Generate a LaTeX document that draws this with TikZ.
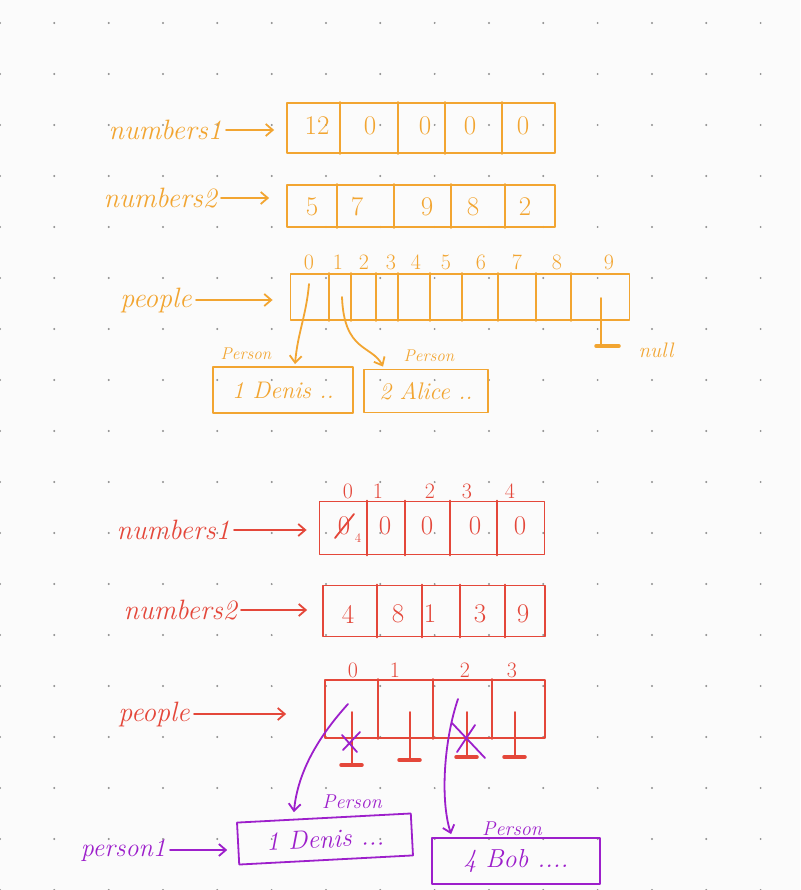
\documentclass[tikz,border=0pt]{standalone}
\usepackage{amsmath}
\usepackage{tikz}
\usetikzlibrary{arrows.meta}

\definecolor{amber}{HTML}{F2A531}
\definecolor{brick}{HTML}{E4473A}
\definecolor{grape}{HTML}{9D1FCB}
\definecolor{paper}{HTML}{FBFBFB}
\definecolor{dotgrey}{HTML}{8E8E8E}

\tikzset{
	ink/.style={line width=1.8pt,line cap=round,line join=round},
	hand/.style={font=\fontsize{28}{30}\selectfont\itshape,inner sep=0pt},
	cellval/.style={font=\fontsize{27}{29}\selectfont,inner sep=0pt},
	idx/.style={font=\fontsize{22}{24}\selectfont,inner sep=0pt},
	tag/.style={font=\fontsize{17}{19}\selectfont\itshape,inner sep=0pt},
	slot/.style={draw,ink,shape=rectangle,inner sep=0pt},
	obj/.style={draw,ink,shape=rectangle,inner sep=0pt,font=\fontsize{24}{26}\selectfont\itshape},
	pointer/.style={ink,->,shorten <=4pt},
	ground/.style={line width=3.5pt,line cap=round}
}

\begin{document}
\begin{tikzpicture}[x=1pt,y=-1pt,>={Straight Barb[length=7pt,width=12pt]}]
					\useasboundingbox (0,0) rectangle (800,890);
					\fill[paper] (0,0) rectangle (800,890);
					\foreach \i in {0,...,14}
						\foreach \j in {0,...,17}
							\fill[dotgrey] ({54.33*\i},{23+51*\j}) circle[radius=1.1pt];

					\begin{scope}[amber]
					\node (numbersone) [hand,anchor=east] at (222,130) {numbers1};
					\node (arrone) [slot,minimum width=268,minimum height=50] at (421,128) {};
					\foreach \x in {340,398,445,502}
						\draw[ink] (\x,0 |- arrone.north) -- (\x,0 |- arrone.south);
					\foreach \x/\v [count=\i] in {317/12,370/0,425/0,470/0,523/0}
						\node (onecell\i) [cellval] at (\x,126) {\v};
					\draw[pointer,shorten >=12pt] (numbersone.east) -- (numbersone.east -| arrone.west);

					\node (numberstwo) [hand,anchor=east] at (217,198) {numbers2};
					\node (arrtwo) [slot,minimum width=268,minimum height=42] at (421,206) {};
					\foreach \x in {337,394,451,505}
						\draw[ink] (\x,0 |- arrtwo.north) -- (\x,0 |- arrtwo.south);
					\foreach \x/\v [count=\i] in {312/5,357/7,427/9,473/8,525/2}
						\node (twocell\i) [cellval] at (\x,207) {\v};
					\draw[pointer,shorten >=17pt] (numberstwo.east) -- (numberstwo.east -| arrtwo.west);

					\node (people) [hand,anchor=east] at (192,300) {people};
					\node (arrpeople) [slot,minimum width=339,minimum height=46] at (460,297) {};
					\foreach \x in {329,351,376,398,430,462,498,536,571}
						\draw[ink] (\x,0 |- arrpeople.north) -- (\x,0 |- arrpeople.south);
					\foreach \x [count=\i from 0] in {309,338,364,391,416,446,481,517,557,609}
						\node (pidx\i) [idx] at (\x,262) {\i};
					\draw[pointer,shorten >=17pt] (people.east) -- (people.east -| arrpeople.west);

					\node (denistag) [tag] at (246,354) {Person};
					\node (denisbox) [obj,minimum width=140,minimum height=46] at (283,390) {1 Denis ..};
					\node (alicetag) [tag] at (429,356) {Person};
					\node (alicebox) [obj,minimum width=124,minimum height=43] at (426,391) {2 Alice ..};

					\coordinate (pzero) at (309,284);
					\coordinate (pone) at (342,297);
					\coordinate (pnine) at (601,298);
					\coordinate (nullend) at (601,346);
					\draw[ink,->] (pzero) to[out=-95,in=85] ([xshift=12pt,yshift=2pt]denisbox.north);
					\draw[ink,->] (pone) .. controls (344,352) and (372,345) .. ([xshift=-43pt,yshift=2pt]alicebox.north);
					\draw[ink] (pnine) -- (nullend);
					\draw[ground] ([xshift=-5pt]nullend) -- ([xshift=18pt]nullend);
					\node (nulltag) [tag,font=\fontsize{21}{23}\selectfont\itshape] at (656,350) {null};
					\end{scope}

					\begin{scope}[brick]
					\node (newnumbersone) [hand,anchor=east] at (230,530) {numbers1};
					\node (newarrone) [slot,minimum width=225,minimum height=53] at (432,528) {};
					\foreach \x in {367,405,450,497}
						\draw[ink] (\x,0 |- newarrone.north) -- (\x,0 |- newarrone.south);
					\foreach \x/\v [count=\i from 0] in {348/0,378/1,430/2,467/3,510/4}
						\node (oneidx\i) [idx] at (\x,491) {\v};
					\foreach \x/\v [count=\i] in {385/0,427/0,475/0,520/0}
						\node (newonecell\i) [cellval] at (\x,526) {\v};
					\node (oldzero) [cellval] at (344,526) {0};
					\node (newfour) [idx,font=\fontsize{13}{14}\selectfont] at (358,538) {4};
					\draw[ink] ([xshift=-9pt,yshift=-12pt]oldzero.center) -- ([xshift=10pt,yshift=12pt]oldzero.center);
					\draw[pointer,shorten >=12pt] (newnumbersone.east) -- (newnumbersone.east -| newarrone.west);

					\node (newnumberstwo) [hand,anchor=east] at (237,610) {numbers2};
					\node (newarrtwo) [slot,minimum width=222,minimum height=51] at (434,611) {};
					\foreach \x in {377,422,460,505}
						\draw[ink] (\x,0 |- newarrtwo.north) -- (\x,0 |- newarrtwo.south);
					\foreach \x/\v [count=\i] in {348/4,398/8,430/1,480/3,523/9}
						\node (newtwocell\i) [cellval] at (\x,614) {\v};
					\draw[pointer,shorten >=15pt] (newnumberstwo.east) -- (newnumberstwo.east -| newarrtwo.west);

					\node (newpeople) [hand,anchor=east] at (190,714) {people};
					\node (newarrpeople) [slot,minimum width=220,minimum height=58] at (435,709) {};
					\foreach \x in {378,433,492}
						\draw[ink] (\x,0 |- newarrpeople.north) -- (\x,0 |- newarrpeople.south);
					\foreach \x/\v [count=\i from 0] in {353/0,395/1,465/2,512/3}
						\node (peopleidx\i) [idx] at (\x,670) {\v};
					\draw[pointer,shorten >=38pt] (newpeople.east) -- (newpeople.east -| newarrpeople.west);
					\foreach \x/\y [count=\i from 0] in {352/765,410/760,467/757,515/757}
					{
						\coordinate (qcell\i) at (\x,712);
						\coordinate (qnull\i) at (\x,\y);
						\draw[ink] (qcell\i) -- (qnull\i);
						\draw[ground] ([xshift=-11pt]qnull\i) -- ([xshift=10pt]qnull\i);
					}
					\end{scope}

					\begin{scope}[grape]
					\node (personone) [hand,anchor=east,font=\fontsize{26}{28}\selectfont\itshape] at (166,850) {person1};
					\node (denistagtwo) [tag,font=\fontsize{20}{22}\selectfont\itshape] at (352,802) {Person};
					\node (denisboxtwo) [obj,rotate=3,minimum width=174,minimum height=42,font=\fontsize{26}{28}\selectfont\itshape] at (325,839) {1 Denis ...};
					\node (bobtag) [tag,font=\fontsize{20}{22}\selectfont\itshape] at (512,829) {Person};
					\node (bobbox) [obj,minimum width=168,minimum height=46,font=\fontsize{26}{28}\selectfont\itshape] at (516,861) {4 Bob ....};
					\draw[pointer,shorten >=10pt] (personone.east) -- (personone.east -| denisboxtwo.west);

					\coordinate (qzero) at (348,704);
					\coordinate (qtwo) at (458,699);
					\draw[ink,->] (qzero) .. controls (320,735) and (298,770) .. ([xshift=-30pt,yshift=5pt]denisboxtwo.north);
					\draw[ink,->] (qtwo) .. controls (444,740) and (440,800) .. ([xshift=20pt,yshift=3pt]bobbox.north west);
					\draw[ink] (342,735) -- (357,752) (343,750) -- (360,732);
					\draw[ink] (452,723) -- (485,758) (457,752) -- (475,725);
					\end{scope}
				\end{tikzpicture}
\end{document}
